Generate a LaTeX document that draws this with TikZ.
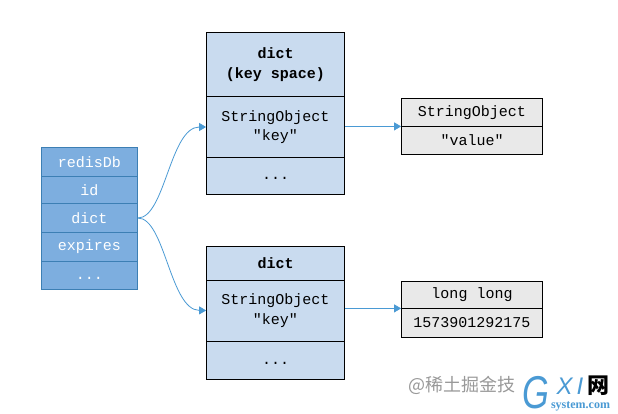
\documentclass[tikz,border=0pt]{standalone}
\usepackage{fontspec}
\setmonofont{Liberation Mono}
\newfontfamily\cjk{Noto Sans CJK SC}
\newfontfamily\logofont{Liberation Sans}
\newfontfamily\logoserif{Liberation Serif}
\usetikzlibrary{arrows.meta}
\definecolor{dbfill}{HTML}{7DAEDF}
\definecolor{dbline}{HTML}{3C7FB4}
\definecolor{dictfill}{HTML}{C9DBEF}
\definecolor{valfill}{HTML}{E9E9E9}
\definecolor{linkblue}{HTML}{4A9AD4}
\newcommand{\lowdots}{\raisebox{-8pt}{...}}
\tikzset{
  dbcell/.style={draw=dbline,fill=dbfill,line width=0.8pt,minimum width=96pt,inner sep=0pt,font=\ttfamily\fontsize{15}{16}\selectfont,text=white},
  dictcell/.style={draw=black,fill=dictfill,line width=0.8pt,minimum width=138pt,inner sep=0pt,align=center,font=\ttfamily\fontsize{15}{19.5}\selectfont},
  valcell/.style={draw=black,fill=valfill,line width=0.8pt,minimum width=141pt,inner sep=0pt,font=\ttfamily\fontsize{15}{16}\selectfont},
  link/.style={draw=linkblue,line width=0.8pt,-{Triangle[length=7pt,width=8pt]}}
}
\begin{document}
\begin{tikzpicture}[x=1pt,y=-1pt]
  \useasboundingbox[fill=white] (0,0) rectangle (618,414);
  % left table
  \node[dbcell,minimum height=28.5pt] (dbhead) at (89.5,161.75) {redisDb};
  \node[dbcell,minimum height=27.5pt] (dbid) at (89.5,189.75) {id};
  \node[dbcell,minimum height=29pt] (dbdict) at (89.5,218) {dict};
  \node[dbcell,minimum height=28.5pt] (dbexpires) at (89.5,246.75) {expires};
  \node[dbcell,minimum height=28pt] (dbmore) at (89.5,275) {\lowdots};
  % upper dict
  \node[dictcell,minimum height=64pt] (keyspace) at (275.5,64.5) {\bfseries dict\\\bfseries (key space)};
  \node[dictcell,minimum height=61pt] (topkey) at (275.5,127) {StringObject\\″key″};
  \node[dictcell,minimum height=36.5pt] (topmore) at (275.5,175.75) {\lowdots};
  % lower dict
  \node[dictcell,minimum height=33.5pt] (lowhead) at (275.5,263.25) {\bfseries dict};
  \node[dictcell,minimum height=61pt] (lowkey) at (275.5,310.5) {StringObject\\″key″};
  \node[dictcell,minimum height=38pt] (lowmore) at (275.5,360) {\lowdots};
  % value boxes
  \node[valcell,minimum height=27.5pt] (topstr) at (472,112.25) {StringObject};
  \node[valcell,minimum height=28.5pt] (topval) at (472,140.25) {″value″};
  \node[valcell,minimum height=26.5pt] (lowtype) at (472,294.75) {long long};
  \node[valcell,minimum height=29pt] (lowval) at (472,322.5) {1573901292175};
  % links
  \draw[link] (dbdict.east) .. controls (165,218) and (170,127) .. (topkey.west);
  \draw[link] (dbdict.east) .. controls (165,218) and (170,310) .. (lowkey.west);
  \draw[link] (topkey.east |- topstr.south west) -- (topstr.south west);
  \draw[link] (lowkey.east |- lowtype.south west) -- (lowtype.south west);
  % site marks
  \node[anchor=west,inner sep=0pt,text=black!40,font=\cjk\fontsize{18}{18}\selectfont] (marktext) at (408,385.5) {@稀土掘金技};
  \node[anchor=center,inner sep=0pt,xscale=0.75,text=linkblue,font=\logofont\itshape\fontsize{46}{46}\selectfont] (markg) at (536,392.5) {G};
  \node[anchor=center,inner sep=0pt,text=linkblue,font=\logofont\itshape\fontsize{24}{24}\selectfont] (markxi) at (570,386) {X\,I};
  \node[anchor=center,inner sep=0pt,font=\cjk\bfseries\fontsize{22}{22}\selectfont] (markwang) at (598,386) {网};
  \node[anchor=center,inner sep=0pt,text=linkblue,font=\logoserif\bfseries\fontsize{12}{12}\selectfont] (marksite) at (580.5,406) {system.com};
\end{tikzpicture}
\end{document}
